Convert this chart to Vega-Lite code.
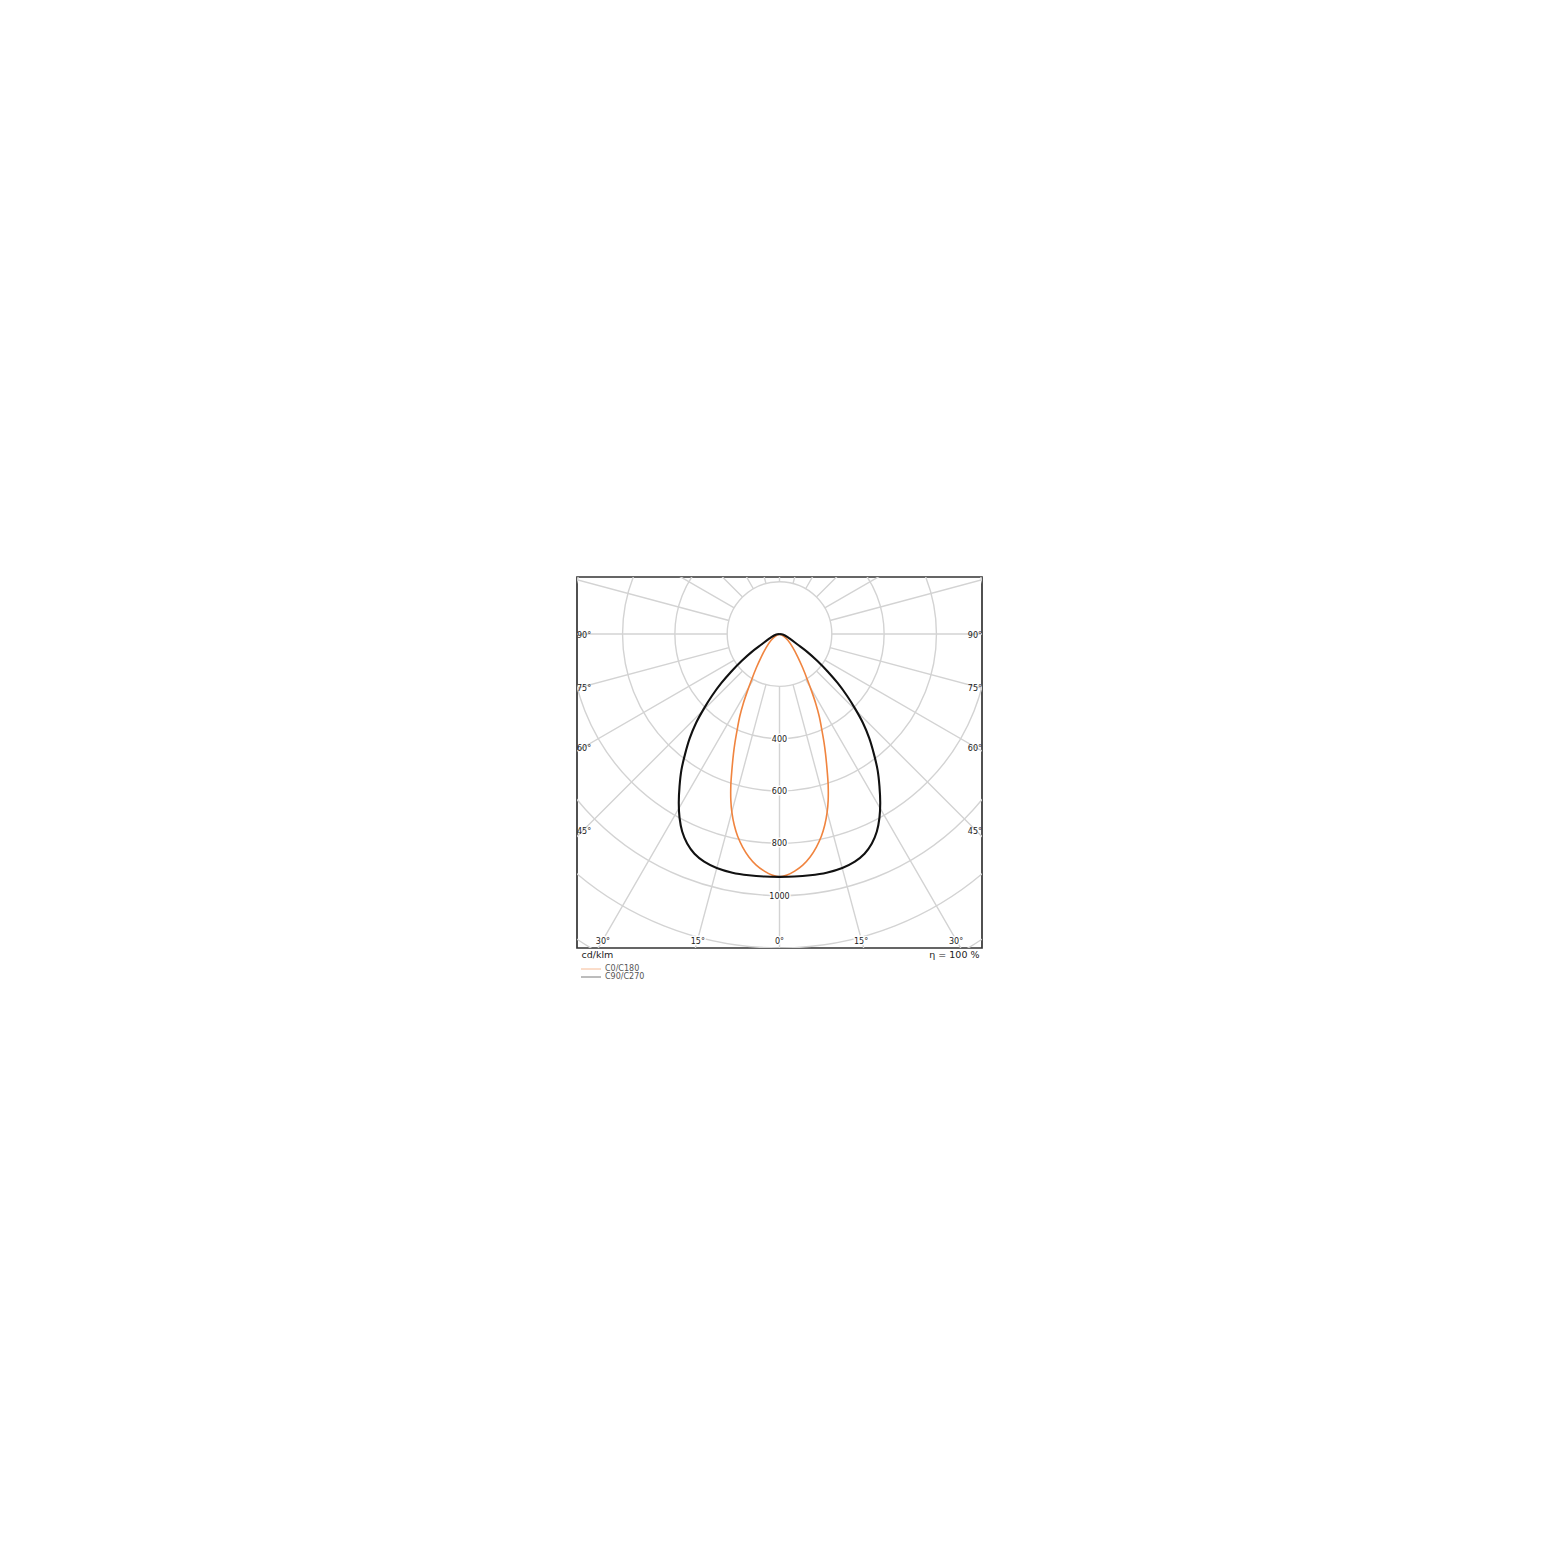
{
  "$schema": "https://vega.github.io/schema/vega-lite/v6.json",
  "width": 405,
  "height": 371,
  "autosize": {"type": "none"},
  "padding": {"left": 577, "top": 577, "right": 578, "bottom": 613},
  "config": {
    "font": "DejaVu Sans",
    "view": {"stroke": "#333333", "strokeWidth": 1.7},
    "text": {"font": "DejaVu Sans"}
  },
  "datasets": {
    "rings": [{"ring": 200}, {"ring": 400}, {"ring": 600}, {"ring": 800}, {"ring": 1000}, {"ring": 1200}, {"ring": 1400}],
    "spokes": [{"angle": -180}, {"angle": -165}, {"angle": -150}, {"angle": -135}, {"angle": -120}, {"angle": -105}, {"angle": -90}, {"angle": -75}, {"angle": -60}, {"angle": -45}, {"angle": -30}, {"angle": -15}, {"angle": 0}, {"angle": 15}, {"angle": 30}, {"angle": 45}, {"angle": 60}, {"angle": 75}, {"angle": 90}, {"angle": 105}, {"angle": 120}, {"angle": 135}, {"angle": 150}, {"angle": 165}],
    "curves": [
      {"series": "C90/C270", "i": 0, "x": 0, "y": 0},
      {"series": "C90/C270", "i": 1, "x": -15, "y": -3},
      {"series": "C90/C270", "i": 2, "x": -38, "y": -17},
      {"series": "C90/C270", "i": 3, "x": -69, "y": -40},
      {"series": "C90/C270", "i": 4, "x": -107, "y": -69},
      {"series": "C90/C270", "i": 5, "x": -145, "y": -103},
      {"series": "C90/C270", "i": 6, "x": -184, "y": -143},
      {"series": "C90/C270", "i": 7, "x": -222, "y": -187},
      {"series": "C90/C270", "i": 8, "x": -258, "y": -236},
      {"series": "C90/C270", "i": 9, "x": -290, "y": -287},
      {"series": "C90/C270", "i": 10, "x": -319, "y": -340},
      {"series": "C90/C270", "i": 11, "x": -343, "y": -398},
      {"series": "C90/C270", "i": 12, "x": -361, "y": -459},
      {"series": "C90/C270", "i": 13, "x": -375, "y": -520},
      {"series": "C90/C270", "i": 14, "x": -382, "y": -581},
      {"series": "C90/C270", "i": 15, "x": -385, "y": -646},
      {"series": "C90/C270", "i": 16, "x": -382, "y": -703},
      {"series": "C90/C270", "i": 17, "x": -372, "y": -755},
      {"series": "C90/C270", "i": 18, "x": -353, "y": -801},
      {"series": "C90/C270", "i": 19, "x": -325, "y": -840},
      {"series": "C90/C270", "i": 20, "x": -288, "y": -870},
      {"series": "C90/C270", "i": 21, "x": -240, "y": -894},
      {"series": "C90/C270", "i": 22, "x": -180, "y": -912},
      {"series": "C90/C270", "i": 23, "x": -117, "y": -922},
      {"series": "C90/C270", "i": 24, "x": -57, "y": -927},
      {"series": "C90/C270", "i": 25, "x": 0, "y": -928},
      {"series": "C90/C270", "i": 26, "x": 57, "y": -927},
      {"series": "C90/C270", "i": 27, "x": 117, "y": -922},
      {"series": "C90/C270", "i": 28, "x": 180, "y": -912},
      {"series": "C90/C270", "i": 29, "x": 240, "y": -894},
      {"series": "C90/C270", "i": 30, "x": 288, "y": -870},
      {"series": "C90/C270", "i": 31, "x": 325, "y": -840},
      {"series": "C90/C270", "i": 32, "x": 353, "y": -801},
      {"series": "C90/C270", "i": 33, "x": 372, "y": -755},
      {"series": "C90/C270", "i": 34, "x": 382, "y": -703},
      {"series": "C90/C270", "i": 35, "x": 385, "y": -646},
      {"series": "C90/C270", "i": 36, "x": 382, "y": -581},
      {"series": "C90/C270", "i": 37, "x": 375, "y": -520},
      {"series": "C90/C270", "i": 38, "x": 361, "y": -459},
      {"series": "C90/C270", "i": 39, "x": 343, "y": -398},
      {"series": "C90/C270", "i": 40, "x": 319, "y": -340},
      {"series": "C90/C270", "i": 41, "x": 290, "y": -287},
      {"series": "C90/C270", "i": 42, "x": 258, "y": -236},
      {"series": "C90/C270", "i": 43, "x": 222, "y": -187},
      {"series": "C90/C270", "i": 44, "x": 184, "y": -143},
      {"series": "C90/C270", "i": 45, "x": 145, "y": -103},
      {"series": "C90/C270", "i": 46, "x": 107, "y": -69},
      {"series": "C90/C270", "i": 47, "x": 69, "y": -40},
      {"series": "C90/C270", "i": 48, "x": 38, "y": -17},
      {"series": "C90/C270", "i": 49, "x": 15, "y": -3},
      {"series": "C90/C270", "i": 50, "x": 0, "y": 0},
      {"series": "C0/C180", "i": 0, "x": 0, "y": 0},
      {"series": "C0/C180", "i": 1, "x": -15, "y": -8},
      {"series": "C0/C180", "i": 2, "x": -32, "y": -24},
      {"series": "C0/C180", "i": 3, "x": -51, "y": -52},
      {"series": "C0/C180", "i": 4, "x": -70, "y": -88},
      {"series": "C0/C180", "i": 5, "x": -89, "y": -130},
      {"series": "C0/C180", "i": 6, "x": -107, "y": -176},
      {"series": "C0/C180", "i": 7, "x": -124, "y": -222},
      {"series": "C0/C180", "i": 8, "x": -139, "y": -267},
      {"series": "C0/C180", "i": 9, "x": -152, "y": -315},
      {"series": "C0/C180", "i": 10, "x": -162, "y": -367},
      {"series": "C0/C180", "i": 11, "x": -170, "y": -413},
      {"series": "C0/C180", "i": 12, "x": -176, "y": -458},
      {"series": "C0/C180", "i": 13, "x": -182, "y": -520},
      {"series": "C0/C180", "i": 14, "x": -186, "y": -577},
      {"series": "C0/C180", "i": 15, "x": -186, "y": -635},
      {"series": "C0/C180", "i": 16, "x": -182, "y": -682},
      {"series": "C0/C180", "i": 17, "x": -173, "y": -730},
      {"series": "C0/C180", "i": 18, "x": -160, "y": -773},
      {"series": "C0/C180", "i": 19, "x": -141, "y": -814},
      {"series": "C0/C180", "i": 20, "x": -117, "y": -852},
      {"series": "C0/C180", "i": 21, "x": -89, "y": -883},
      {"series": "C0/C180", "i": 22, "x": -58, "y": -906},
      {"series": "C0/C180", "i": 23, "x": -29, "y": -921},
      {"series": "C0/C180", "i": 24, "x": 0, "y": -928},
      {"series": "C0/C180", "i": 25, "x": 29, "y": -921},
      {"series": "C0/C180", "i": 26, "x": 58, "y": -906},
      {"series": "C0/C180", "i": 27, "x": 89, "y": -883},
      {"series": "C0/C180", "i": 28, "x": 117, "y": -852},
      {"series": "C0/C180", "i": 29, "x": 141, "y": -814},
      {"series": "C0/C180", "i": 30, "x": 160, "y": -773},
      {"series": "C0/C180", "i": 31, "x": 173, "y": -730},
      {"series": "C0/C180", "i": 32, "x": 182, "y": -682},
      {"series": "C0/C180", "i": 33, "x": 186, "y": -635},
      {"series": "C0/C180", "i": 34, "x": 186, "y": -577},
      {"series": "C0/C180", "i": 35, "x": 182, "y": -520},
      {"series": "C0/C180", "i": 36, "x": 176, "y": -458},
      {"series": "C0/C180", "i": 37, "x": 170, "y": -413},
      {"series": "C0/C180", "i": 38, "x": 162, "y": -367},
      {"series": "C0/C180", "i": 39, "x": 152, "y": -315},
      {"series": "C0/C180", "i": 40, "x": 139, "y": -267},
      {"series": "C0/C180", "i": 41, "x": 124, "y": -222},
      {"series": "C0/C180", "i": 42, "x": 107, "y": -176},
      {"series": "C0/C180", "i": 43, "x": 89, "y": -130},
      {"series": "C0/C180", "i": 44, "x": 70, "y": -88},
      {"series": "C0/C180", "i": 45, "x": 51, "y": -52},
      {"series": "C0/C180", "i": 46, "x": 32, "y": -24},
      {"series": "C0/C180", "i": 47, "x": 15, "y": -8},
      {"series": "C0/C180", "i": 48, "x": 0, "y": 0}
    ],
    "ringLabels": [{"v": 400}, {"v": 600}, {"v": 800}, {"v": 1000}],
    "sideLabels": [{"label": "90°", "y": 0}, {"label": "75°", "y": -203}, {"label": "60°", "y": -432}, {"label": "45°", "y": -749}],
    "bottomLabels": [{"label": "30°", "x": -675}, {"label": "15°", "x": -312}, {"label": "0°", "x": 0}, {"label": "15°", "x": 312}, {"label": "30°", "x": 675}]
  },
  "encoding": {
    "x": {"type": "quantitative", "scale": {"domain": [-774, 774], "nice": false, "zero": false},
      "axis": {"title": "η = 100 %", "labels": false, "ticks": false, "domain": false, "grid": false,
        "titleX": 402, "titleY": 6, "titleAlign": "right", "titleBaseline": "middle", "titleFontSize": 9.5, "titleFontWeight": "normal", "titleColor": "#222222", "titleFont": "DejaVu Sans"}},
    "y": {"type": "quantitative", "scale": {"domain": [-1200, 218], "nice": false, "zero": false},
      "axis": {"title": "cd/klm", "labels": false, "ticks": false, "domain": false, "grid": false,
        "titleX": 4, "titleY": 377, "titleAngle": 0, "titleAlign": "left", "titleBaseline": "middle", "titleFontSize": 9.5, "titleFontWeight": "normal", "titleColor": "#222222", "titleFont": "DejaVu Sans"}}
  },
  "layer": [
    {
      "data": {"name": "rings"},
      "mark": {"type": "arc", "filled": false, "stroke": "#d3d3d3", "strokeWidth": 1.4, "theta": 0, "theta2": 6.2832, "clip": true},
      "encoding": {
        "x": {"datum": 0, "type": "quantitative"},
        "y": {"datum": 0, "type": "quantitative"},
        "radius": {"field": "ring", "type": "quantitative", "stack": null, "scale": {"type": "linear", "domain": [0, 1400], "range": [0, 366.2], "zero": true}}
      }
    },
    {
      "data": {"name": "spokes"},
      "mark": {"type": "arc", "filled": false, "stroke": "#d3d3d3", "strokeWidth": 1.4, "clip": true},
      "encoding": {
        "x": {"datum": 0, "type": "quantitative"},
        "y": {"datum": 0, "type": "quantitative"},
        "theta": {"field": "angle", "type": "quantitative", "stack": null, "scale": {"type": "linear", "domain": [-180, 180], "range": [0, 6.283185307179586]}},
        "theta2": {"field": "angle"},
        "radius": {"datum": 1700, "type": "quantitative", "stack": null, "scale": {"type": "linear", "domain": [0, 1400], "range": [0, 366.2], "zero": true}},
        "radius2": {"datum": 200}
      }
    },
    {
      "data": {"name": "curves"},
      "transform": [{"filter": "datum.series === 'C0/C180'"}],
      "mark": {"type": "line", "interpolate": "catmull-rom", "strokeWidth": 1.6},
      "encoding": {
        "x": {"field": "x", "type": "quantitative"},
        "y": {"field": "y", "type": "quantitative"},
        "order": {"field": "i", "type": "quantitative"},
        "color": {"field": "series", "type": "nominal",
          "scale": {"domain": ["C0/C180", "C90/C270"], "range": ["#f0843f", "#111111"]},
          "legend": {"orient": "none", "legendX": 10, "legendY": 388, "title": null, "padding": 0,
            "symbolType": "M-5,0H5", "symbolSize": 16, "symbolStrokeWidth": 1, "symbolOpacity": 0.55,
            "labelFontSize": 8, "labelColor": "#555555", "labelOffset": 10, "rowPadding": 0, "labelFont": "DejaVu Sans"}}
      }
    },
    {
      "data": {"name": "curves"},
      "transform": [{"filter": "datum.series === 'C90/C270'"}],
      "mark": {"type": "line", "interpolate": "catmull-rom", "strokeWidth": 2.1},
      "encoding": {
        "x": {"field": "x", "type": "quantitative"},
        "y": {"field": "y", "type": "quantitative"},
        "order": {"field": "i", "type": "quantitative"},
        "color": {"field": "series", "type": "nominal"}
      }
    },
    {
      "data": {"name": "ringLabels"},
      "mark": {"type": "text", "fontSize": 8, "color": "white", "stroke": "white", "strokeWidth": 3, "strokeJoin": "round", "align": "center", "baseline": "middle", "dy": 1},
      "encoding": {
        "x": {"datum": 0, "type": "quantitative"},
        "y": {"datum": 0, "type": "quantitative"},
        "theta": {"datum": 0, "type": "quantitative"},
        "radius": {"field": "v", "type": "quantitative", "stack": null},
        "text": {"field": "v", "type": "quantitative"}
      }
    },
    {
      "data": {"name": "ringLabels"},
      "mark": {"type": "text", "fontSize": 8, "color": "#222222", "align": "center", "baseline": "middle", "dy": 1},
      "encoding": {
        "x": {"datum": 0, "type": "quantitative"},
        "y": {"datum": 0, "type": "quantitative"},
        "theta": {"datum": 0, "type": "quantitative"},
        "radius": {"field": "v", "type": "quantitative", "stack": null},
        "text": {"field": "v", "type": "quantitative"}
      }
    },
    {
      "data": {"name": "bottomLabels"},
      "mark": {"type": "text", "fontSize": 8, "color": "white", "stroke": "white", "strokeWidth": 3, "strokeJoin": "round", "align": "center", "baseline": "middle", "dy": 2},
      "encoding": {
        "x": {"field": "x", "type": "quantitative"},
        "y": {"datum": -1170, "type": "quantitative"},
        "text": {"field": "label"}
      }
    },
    {
      "data": {"name": "bottomLabels"},
      "mark": {"type": "text", "fontSize": 8, "color": "#222222", "align": "center", "baseline": "middle", "dy": 2},
      "encoding": {
        "x": {"field": "x", "type": "quantitative"},
        "y": {"datum": -1170, "type": "quantitative"},
        "text": {"field": "label"}
      }
    },
    {
      "data": {"name": "sideLabels"},
      "mark": {"type": "text", "fontSize": 8, "color": "#222222", "align": "left", "baseline": "middle", "dy": 2},
      "encoding": {
        "x": {"datum": -774, "type": "quantitative"},
        "y": {"field": "y", "type": "quantitative"},
        "text": {"field": "label"}
      }
    },
    {
      "data": {"name": "sideLabels"},
      "mark": {"type": "text", "fontSize": 8, "color": "#222222", "align": "right", "baseline": "middle", "dy": 2},
      "encoding": {
        "x": {"datum": 774, "type": "quantitative"},
        "y": {"field": "y", "type": "quantitative"},
        "text": {"field": "label"}
      }
    }
  ]
}
